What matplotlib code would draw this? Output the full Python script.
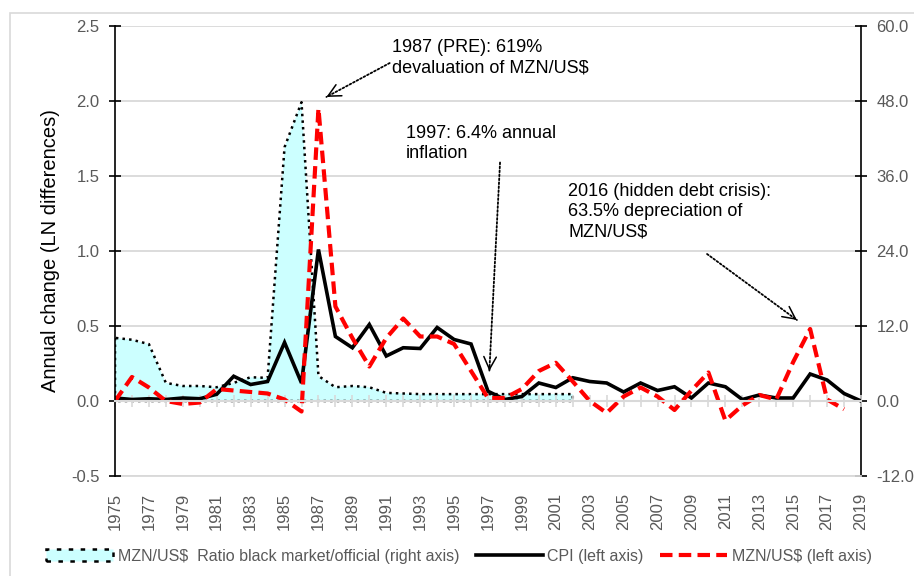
import numpy as np
import matplotlib
matplotlib.use("Agg")
import matplotlib.pyplot as plt
from matplotlib.patches import Rectangle

plt.rcParams["font.family"] = ["Liberation Sans", "DejaVu Sans"]
plt.rcParams["text.parse_math"] = False

# --- data ---
years = np.arange(1975, 2020)

# CPI, annual change in LN differences (left axis), 1975-2019
cpi = [0.02, 0.01, 0.015, 0.01, 0.02, 0.015, 0.045, 0.165, 0.11, 0.13,
       0.39, 0.12, 1.01, 0.43, 0.355, 0.51, 0.30, 0.355, 0.35, 0.49,
       0.41, 0.38, 0.065, 0.01, 0.03, 0.12, 0.09, 0.155, 0.13, 0.12,
       0.06, 0.12, 0.07, 0.095, 0.02, 0.12, 0.095, 0.01, 0.04, 0.02,
       0.02, 0.18, 0.14, 0.05, 0.0]

# MZN/US$ annual change (left axis), 1975-2018
mzn_years = np.arange(1975, 2019)
mzn = [0.0, 0.16, 0.09, 0.0, -0.02, -0.01, 0.08, 0.07, 0.06, 0.05,
       0.01, -0.07, 1.95, 0.63, 0.42, 0.23, 0.42, 0.55, 0.43, 0.43,
       0.38, 0.20, 0.02, 0.02, 0.08, 0.20, 0.255, 0.13, 0.0, -0.08,
       0.03, 0.09, 0.03, -0.06, 0.07, 0.19, -0.13, -0.03, 0.04, 0.01,
       0.26, 0.48, 0.01, -0.055]

# black market / official MZN/US$ ratio (right axis), 1975-2002
ratio_years = np.arange(1975, 2003)
ratio = [10.1, 9.8, 9.1, 2.9, 2.4, 2.4, 2.2, 2.9, 3.8, 3.7,
         40.6, 47.8, 4.0, 2.2, 2.4, 2.2, 1.3, 1.2, 1.1, 1.1,
         1.1, 1.1, 1.1, 1.1, 1.1, 1.1, 1.1, 1.1]

left_ticks = [-0.5, 0.0, 0.5, 1.0, 1.5, 2.0, 2.5]
right_ticks = [-12, 0, 12, 24, 36, 48, 60]
label_years = years[::2]

GRAY_TXT = "#595959"
GRID = "#D9D9D9"

fig = plt.figure(figsize=(9.14, 5.76), dpi=100)
ax = fig.add_axes([115 / 914, 1 - 476 / 576, (861 - 115) / 914, 450 / 576])
ax2 = ax.twinx()

# right axis: ratio area, drawn underneath
ax2.set_ylim(-12, 60)
ax2.set_yticks(right_ticks)
ax2.set_yticklabels([f"{v:.1f}" for v in right_ticks])
ax2.grid(axis="y", color=GRID, lw=1.3)
ax2.set_axisbelow(True)
area = ax2.fill_between(ratio_years, 0, ratio, facecolor="#CCFFFF",
                        edgecolor="black", linestyle=":", lw=1.8, zorder=2)
for s in ["top", "bottom", "left"]:
    ax2.spines[s].set_visible(False)
ax2.spines["right"].set_linewidth(1.2)
ax2.tick_params(axis="y", direction="inout", length=8, width=1.2,
                colors="black", labelcolor=GRAY_TXT, labelsize=12, pad=7)

# left axis: CPI and MZN/US$ on top
ax.set_zorder(ax2.get_zorder() + 1)
ax.patch.set_visible(False)
cpi_line, = ax.plot(years, cpi, color="black", lw=2.6, solid_joinstyle="miter")
mzn_line, = ax.plot(mzn_years, mzn, color="#FF0000", lw=3.0,
                    linestyle=(0, (3.0, 1.5)))
ax.set_ylim(-0.5, 2.5)
ax.set_xlim(1975, 2019)
ax.set_yticks(left_ticks)
ax.set_yticklabels([f"{v:.1f}" for v in left_ticks])
ax.tick_params(axis="y", direction="inout", length=8, width=1.2,
               colors="black", labelcolor=GRAY_TXT, labelsize=12, pad=7)
ax.set_ylabel("Annual change (LN differences)", fontsize=14.5, labelpad=8)
for s in ["top", "right"]:
    ax.spines[s].set_visible(False)
ax.spines["left"].set_linewidth(1.2)

# x axis line sits at zero, year labels at the bottom
ax.spines["bottom"].set_position(("data", 0))
ax.spines["bottom"].set_color(GRID)
ax.spines["bottom"].set_linewidth(1.5)
ax.set_xticks(years)
ax.tick_params(axis="x", direction="inout", length=8, width=1.2,
               color=GRID, labelbottom=False)

sec = ax.secondary_xaxis("bottom")
sec.set_xticks(label_years)
sec.set_xticklabels([str(y) for y in label_years])
sec.tick_params(axis="x", length=0, pad=12, labelsize=12,
                labelcolor=GRAY_TXT, labelrotation=90)
sec.spines["bottom"].set_color(GRID)
sec.spines["bottom"].set_linewidth(1.3)


# annotations: dotted shaft with a solid open head
def note_arrow(start, tip):
    ax.annotate("", xy=tip, xytext=start,
                arrowprops=dict(arrowstyle="-", linestyle=(0, (1, 1.2)), lw=1.3,
                                color="black", shrinkA=0, shrinkB=0))
    p0 = ax.transData.transform(start)
    p1 = ax.transData.transform(tip)
    d = (p0 - p1) / np.hypot(*(p0 - p1)) * 3
    ax.annotate("", xy=tip, xytext=(d[0], d[1]), textcoords="offset pixels",
                arrowprops=dict(arrowstyle="->,head_length=0.9,head_width=0.45",
                                lw=1.1, color="black", shrinkA=0, shrinkB=0))


ax.text(1991.31, 2.41, "1987 (PRE): 619%\ndevaluation of MZN/US$",
        fontsize=13, va="top", ha="left", linespacing=1.2)
note_arrow((1991.2, 2.253), (1987.47, 2.027))

ax.text(1992.17, 1.84, "1997: 6.4% annual\ninflation",
        fontsize=13, va="top", ha="left", linespacing=1.2)
note_arrow((1997.71, 1.59), (1997.08, 0.20))

ax.text(2001.74, 1.45, "2016 (hidden debt crisis):\n63.5% depreciation of\nMZN/US$",
        fontsize=13, va="top", ha="left", linespacing=1.22)
note_arrow((2009.92, 0.98), (2015.22, 0.54))

fig.legend([area, cpi_line, mzn_line],
           ["MZN/US$  Ratio black market/official (right axis)",
            "CPI (left axis)", "MZN/US$ (left axis)"],
           loc="center", bbox_to_anchor=(459 / 914, 1 - 556 / 576), ncol=3,
           frameon=False, fontsize=11.5, labelcolor=GRAY_TXT,
           handlelength=4.2, handletextpad=0.3, columnspacing=1.0)

# light chart-area border
fig.patches.append(Rectangle((10 / 914, -0.1), 1.0, 1.1 - 13 / 576,
                             transform=fig.transFigure, fill=False,
                             edgecolor=GRID, lw=1.2))

fig.savefig("out.png", dpi=100)
